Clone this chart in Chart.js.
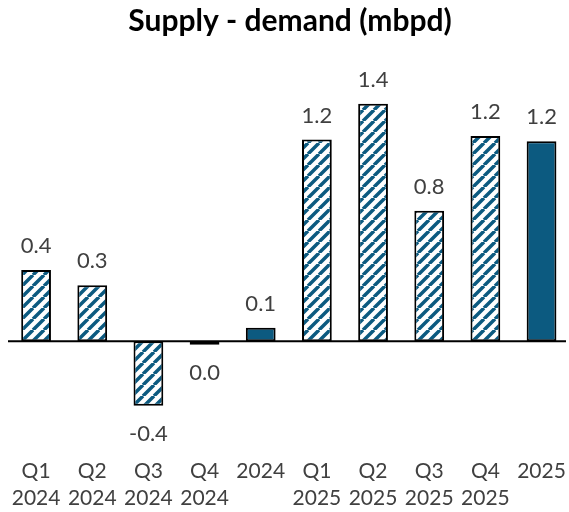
<!DOCTYPE html>
<html>
<head>
<meta charset="utf-8">
<script src="https://cdn.jsdelivr.net/npm/chart.js@4"></script>
<style>
  html, body { margin: 0; padding: 0; background: #fff; overflow: hidden; }
  #wrap { width: 574px; height: 512px; }
</style>
</head>
<body>
<div id="wrap"><canvas id="c" width="574" height="512"></canvas></div>
<script>
// categories (two-line labels)
const categories = [
  ['Q1', '2024'], ['Q2', '2024'], ['Q3', '2024'], ['Q4', '2024'], ['2024'],
  ['Q1', '2025'], ['Q2', '2025'], ['Q3', '2025'], ['Q4', '2025'], ['2025']
];
// supply - demand, mbpd
const balance = [0.42, 0.33, -0.38, -0.02, 0.08, 1.19, 1.40, 0.77, 1.21, 1.18];
// quarterly bars are hatched, annual bars are solid
const isAnnual = [false, false, false, false, true, false, false, false, false, true];

const blue = '#0c5a80';
const FONT = 'Lato, "Liberation Sans", sans-serif';

// diagonal stripe pattern
function makeHatch() {
    const s = 11;
    const pc = document.createElement('canvas');
    pc.width = s; pc.height = s;
    const p = pc.getContext('2d');
    p.fillStyle = '#fff';
    p.fillRect(0, 0, s, s);
    p.strokeStyle = blue;
    p.lineWidth = 3.5;
    p.beginPath();
    for (let k = -1; k <= 1; k++) {
        p.moveTo(k * s, s);
        p.lineTo(k * s + s, 0);
    }
    p.stroke();
    return p.createPattern(pc, 'repeat');
}

const ctx = document.getElementById('c').getContext('2d');
const hatch = makeHatch();

// zero line + value labels
const extras = {
    id: 'extras',
    afterDatasetsDraw(chart) {
        const c = chart.ctx;
        const y = chart.scales.y;
        const area = chart.chartArea;
        const y0 = y.getPixelForValue(0);
        c.save();
        c.strokeStyle = '#000';
        c.lineWidth = 2;
        c.beginPath();
        c.moveTo(area.left, y0);
        c.lineTo(Math.min(area.right, 566), y0);
        c.stroke();

        c.fillStyle = '#404040';
        c.font = '22px ' + FONT;
        c.textAlign = 'center';
        chart.getDatasetMeta(0).data.forEach((bar, i) => {
            const v = balance[i];
            let s = v.toFixed(1);
            if (s === '-0.0') s = '0.0';
            if (v >= 0) {
                c.textBaseline = 'bottom';
                c.fillText(s, bar.x, bar.y - 13);
            } else {
                c.textBaseline = 'top';
                c.fillText(s, bar.x, Math.max(bar.y, y0 + 2) + 17);
            }
        });
        c.restore();
    }
};

new Chart(ctx, {
    type: 'bar',
    data: {
        labels: categories,
        datasets: [{
            data: balance,
            backgroundColor: isAnnual.map(a => a ? blue : hatch),
            borderColor: '#000',
            borderWidth: 2,
            borderSkipped: false,
            barPercentage: 0.53,
            categoryPercentage: 1.0
        }]
    },
    options: {
        responsive: false,
        animation: false,
        devicePixelRatio: 1,
        layout: { padding: { left: 8, right: 2, top: 0, bottom: -8 } },
        plugins: {
            legend: { display: false },
            tooltip: { enabled: false },
            title: {
                display: true,
                text: 'Supply - demand (mbpd)',
                color: '#000',
                font: { family: FONT, size: 30, weight: 'bold', lineHeight: 1.2 },
                padding: { top: 3, bottom: 8 }
            }
        },
        scales: {
            x: {
                grid: { display: false },
                border: { display: false },
                ticks: {
                    color: '#404040',
                    maxRotation: 0,
                    autoSkip: false,
                    padding: 8,
                    font: { family: FONT, size: 21, lineHeight: 1.3 }
                }
            },
            y: {
                display: false,
                min: -0.59,
                max: 1.735
            }
        }
    },
    plugins: [extras]
});
</script>
</body>
</html>
